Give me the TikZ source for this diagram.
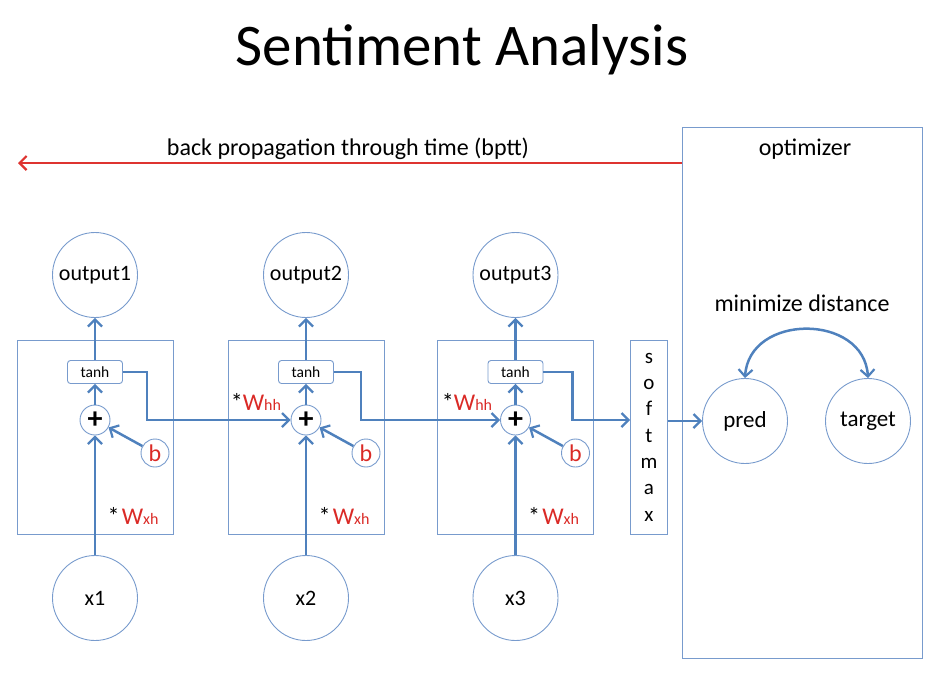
\documentclass[tikz,border=0pt]{standalone}
\usepackage{fontspec}
\setmainfont{Carlito}
\usetikzlibrary{arrows.meta}
\definecolor{lineblue}{RGB}{79,129,189}
\definecolor{edgeblue}{RGB}{120,155,205}
\definecolor{bpttred}{RGB}{222,52,48}
\definecolor{labelred}{RGB}{218,42,38}

\newcommand{\weightlabel}[2]{{\fontsize{24}{24}\selectfont *}#1{\color{labelred}{\fontsize{24}{24}\selectfont W}{\fontsize{16}{16}\selectfont #2}}}

\begin{document}
\begin{tikzpicture}[x=1pt,y=-1pt,
  unit/.style={circle,draw=edgeblue,line width=0.9pt,minimum size=85pt,inner sep=0pt,font=\fontsize{22}{24}\selectfont},
  cell/.style={draw=edgeblue,line width=0.9pt,minimum width=156pt,minimum height=194pt,inner sep=0pt},
  tanhbox/.style={draw=edgeblue,line width=0.9pt,rounded corners=3pt,minimum width=55pt,minimum height=23pt,inner sep=0pt,font=\fontsize{15.5}{17}\selectfont},
  plusnode/.style={circle,draw=edgeblue,line width=0.9pt,minimum size=30pt,inner sep=0pt,font=\fontsize{30}{30}\selectfont\bfseries},
  biasnode/.style={circle,draw=edgeblue,line width=0.9pt,minimum size=28pt,inner sep=0pt,text=labelred,font=\fontsize{24}{24}\selectfont},
  barb/.tip={Straight Barb[length=7pt,width=14pt,line width=2.2pt]},
  flow/.style={draw=lineblue,line width=2.5pt,-barb},
  bptt/.style={draw=bpttred,line width=2.6pt,-{Straight Barb[length=7pt,width=14pt,line width=2.2pt]}},
  plain/.style={font=\fontsize{24}{26}\selectfont,inner sep=0pt}
]
\useasboundingbox (0,0) rectangle (934,673);

% title
\node[font=\fontsize{59}{61}\selectfont] (title) at (462,50) {Sentiment Analysis};

% optimizer region
\node[draw=edgeblue,line width=0.9pt,minimum width=240pt,minimum height=531pt,inner sep=0pt] (opt) at (802,392.5) {};
\node[plain] (optlabel) at (805,149) {optimizer};
\node[plain] (mindist) at (802,303) {minimize distance};
\node[unit,font=\fontsize{23}{24}\selectfont] (pred) at (745,421) {pred};
\node[unit,font=\fontsize{23}{24}\selectfont] (target) at (868,421) {target};
\draw[flow,barb-barb] (pred.north) .. controls +(4,-65) and +(-4,-65) .. (target.north);

% back propagation arrow
\coordinate (bpttend) at (18,163);
\draw[bptt] (opt.west |- bpttend) -- (bpttend);
\node[plain] (bpttlabel) at (348,149) {back propagation through time (bptt)};

% softmax
\node[draw=edgeblue,line width=0.9pt,minimum width=37pt,minimum height=194pt,inner sep=0pt,align=center,font=\fontsize{21}{26.3}\selectfont] (softmax) at (649,437) {s\\o\\f\\t\\m\\a\\x};

% recurrent cells
\foreach \i/\cx in {1/95,2/306,3/515.5}{
  \node[cell] (cell\i) at (\cx,437) {};
  \node[tanhbox,fill=white] (tanh\i) at (\cx,372) {tanh};
  \node[plusnode] (plus\i) at (\cx,420) {+};
  \node[biasnode] (b\i) at (\cx+60,453) {b};
  \node[unit] (out\i) at (\cx,275) {output\i};
  \node[unit] (x\i) at (\cx,598) {x\i};
  \node[inner sep=0pt] (wxh\i) at (\cx+38,516) {\weightlabel{~}{xh}};
  \draw[flow] (x\i) -- (plus\i);
  \draw[flow] (plus\i) -- (tanh\i);
  \draw[flow] (tanh\i) -- (out\i);
  \draw[flow] (b\i) -- (plus\i);
}
\node[inner sep=0pt] (whh2) at (256,402) {\weightlabel{}{hh}};
\node[inner sep=0pt] (whh3) at (467,402) {\weightlabel{}{hh}};

% hidden state passed along
\draw[flow] (tanh1.east) -- ++(24,0) |- (plus2.west);
\draw[flow] (tanh2.east) -- ++(27,0) |- (plus3.west);
\draw[flow] (tanh3.east) -- ++(29,0) |- (softmax.west |- plus3);
\draw[flow] (softmax.east |- pred) -- (pred.west);
\end{tikzpicture}
\end{document}
